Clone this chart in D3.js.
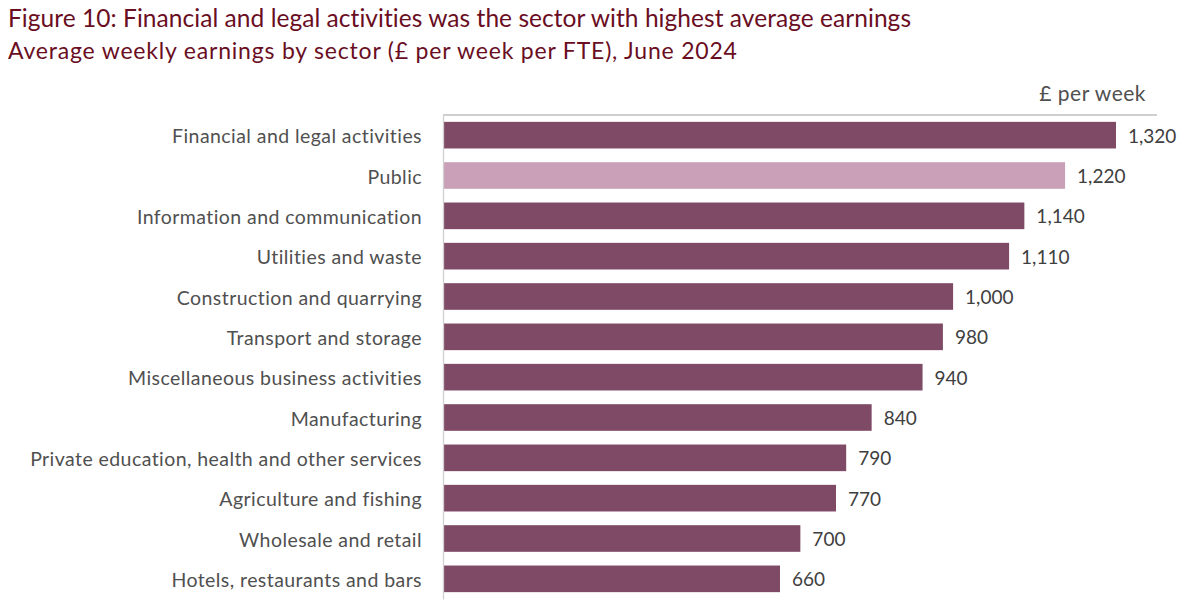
<!DOCTYPE html>
<html><head><meta charset="utf-8">
<script src="https://cdn.jsdelivr.net/npm/d3@7"></script>
<style>body{margin:0;background:#fff}svg{display:block;font-family:Lato,"Open Sans",sans-serif}</style>
</head><body><svg id="c" width="1180" height="613"></svg>
<script>
const categories = ["Financial and legal activities","Public","Information and communication","Utilities and waste","Construction and quarrying","Transport and storage","Miscellaneous business activities","Manufacturing","Private education, health and other services","Agriculture and fishing","Wholesale and retail","Hotels, restaurants and bars"];
const values = [1320,1220,1140,1110,1000,980,940,840,790,770,700,660];
const highlight = ["Public"];
const titleText = "Figure 10: Financial and legal activities was the sector with highest average earnings";
const subtitleText = "Average weekly earnings by sector (£ per week per FTE), June 2024";
const unitLabel = "£ per week";

const svg = d3.select("#c");
const x0 = 444, yTop = 115, yBot = 599;
const x = d3.scaleLinear().domain([0,1320]).range([x0, 1116]);
const y = d3.scaleBand().domain(categories).range([yTop, yBot]).paddingInner(0.34).paddingOuter(0.17);

svg.append("text").attr("x",8).attr("y",27).attr("fill","#6a0e1f").attr("font-size",24.5).attr("letter-spacing",0.05).text(titleText);
svg.append("text").attr("x",8).attr("y",59).attr("fill","#6a0e1f").attr("font-size",23).attr("letter-spacing",0.8).text(subtitleText);

svg.append("line").attr("x1",443).attr("x2",1157).attr("y1",yTop).attr("y2",yTop).attr("stroke","#bfbfbf").attr("stroke-width",1.3);
svg.append("text").attr("x",1146).attr("y",101).attr("text-anchor","end").attr("fill","#505050").attr("font-size",21).attr("letter-spacing",0.5).text(unitLabel);

svg.selectAll("rect.bar").data(categories).join("rect").attr("class","bar")
  .attr("x",x(0)).attr("y",d=>y(d)).attr("height",y.bandwidth())
  .attr("width",(d,i)=>x(values[i])-x(0))
  .attr("fill",d=>highlight.includes(d)?"#c9a0b7":"#7f4a66");

const ax = svg.append("g").attr("transform",`translate(${443},0)`).call(d3.axisLeft(y).tickSize(0).tickPadding(21));
ax.select(".domain").attr("stroke","#d0d0d0").attr("stroke-width",1.3);
ax.selectAll("text").attr("font-size",19.5).attr("letter-spacing",0.43).attr("dy","0.42em").attr("fill","#505050").attr("font-family","Lato,'Open Sans',sans-serif");

svg.selectAll("text.val").data(categories).join("text").attr("class","val")
  .attr("x",(d,i)=>x(values[i])+12).attr("y",d=>y(d)+y.bandwidth()/2).attr("dy","0.4em")
  .attr("fill","#404040").attr("font-size",19).text((d,i)=>d3.format(",")(values[i]));
</script></body></html>
